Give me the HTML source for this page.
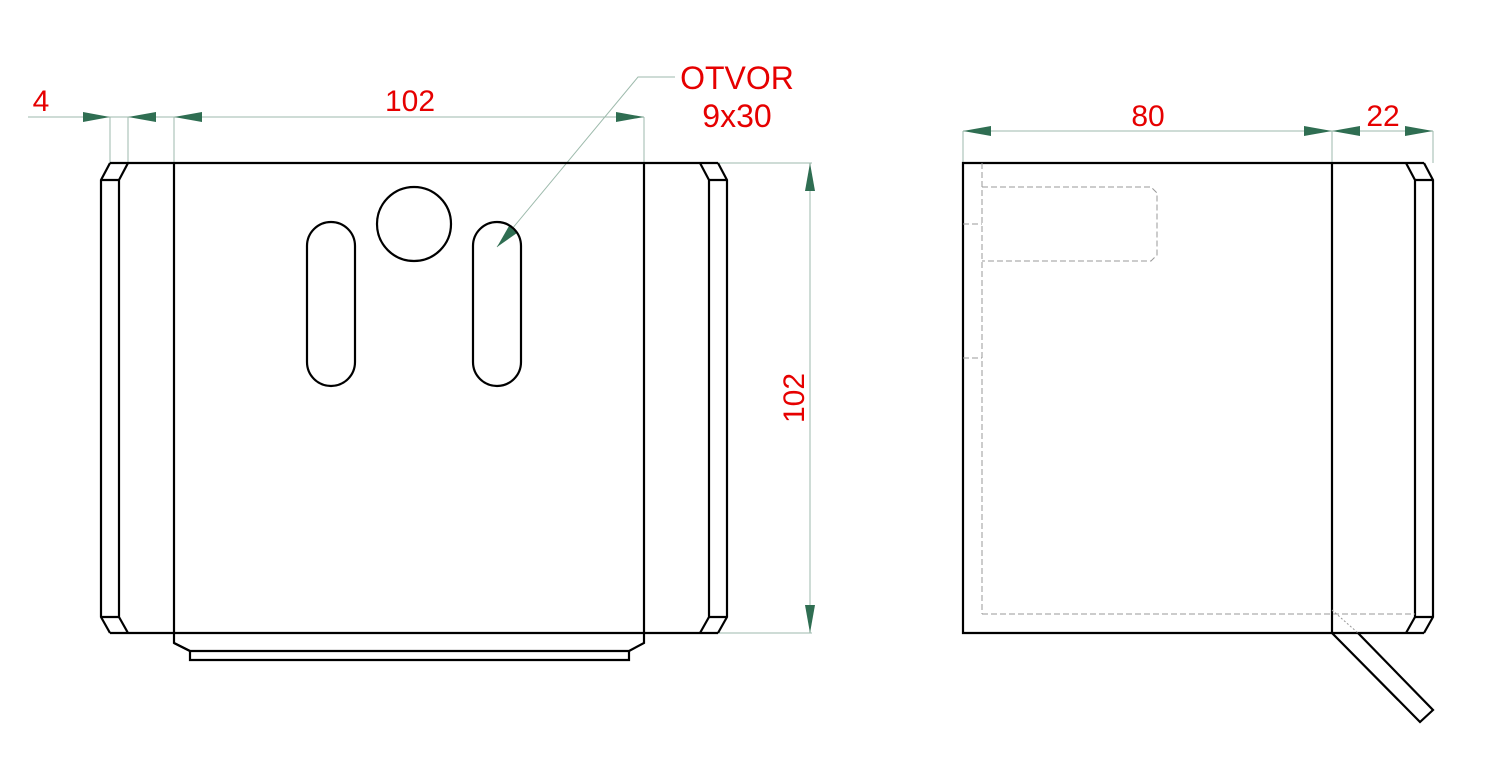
<!DOCTYPE html>
<html><head><meta charset="utf-8"><style>html,body{margin:0;padding:0;background:#fff}svg{display:block}</style></head>
<body>
<svg width="1500" height="775" viewBox="0 0 1500 775" xmlns="http://www.w3.org/2000/svg">
<g stroke="#9dbaac" stroke-width="1" fill="none">
<line x1="28" y1="117" x2="644" y2="117"/>
<line x1="110" y1="117" x2="110" y2="163"/>
<line x1="128" y1="117" x2="128" y2="163"/>
<line x1="174" y1="117" x2="174" y2="163"/>
<line x1="644" y1="117" x2="644" y2="163"/>
<line x1="718" y1="163" x2="812" y2="163"/>
<line x1="718" y1="633" x2="812" y2="633"/>
<line x1="810" y1="163" x2="810" y2="633"/>
<polyline points="675,77 638,77 497,247"/>
<line x1="963" y1="131" x2="1433" y2="131"/>
<line x1="963" y1="131" x2="963" y2="163"/>
<line x1="1332" y1="131" x2="1332" y2="163"/>
<line x1="1433" y1="131" x2="1433" y2="163"/>
</g>
<g stroke="none" fill="#2f6e52">
<path d="M83,112 L110,117 L83,122Z"/>
<path d="M156,112 L128,117 L156,122Z"/>
<path d="M202,112 L174,117 L202,122Z"/>
<path d="M616,112 L644,117 L616,122Z"/>
<path d="M805,191 L810,163 L815,191Z"/>
<path d="M805,605 L810,633 L815,605Z"/>
<path d="M991,126 L963,131 L991,136Z"/>
<path d="M1304,126 L1332,131 L1304,136Z"/>
<path d="M1360,126 L1332,131 L1360,136Z"/>
<path d="M1405,126 L1433,131 L1405,136Z"/>
<path d="M497,247 L509,226 L517,233Z"/>
</g>
<g stroke="#000" stroke-width="2.2" fill="none" stroke-linejoin="miter">
<line x1="110" y1="163" x2="718" y2="163"/>
<line x1="110" y1="633" x2="718" y2="633"/>
<polyline points="110,163 101,180 101,617 110,633"/>
<polyline points="128,163 119,180 119,617 128,633"/>
<line x1="101" y1="180" x2="119" y2="180"/>
<line x1="101" y1="617" x2="119" y2="617"/>
<polyline points="700,163 709,180 709,617 700,633"/>
<polyline points="718,163 727,180 727,617 718,633"/>
<line x1="709" y1="180" x2="727" y2="180"/>
<line x1="709" y1="617" x2="727" y2="617"/>
<polyline points="174,163 174,643 190,651 629,651 644,643 644,163"/>
<polyline points="174,643 190,651 190,660 629,660 629,651"/>
<circle cx="414" cy="224" r="37"/>
<rect x="307" y="222" width="48" height="164" rx="24"/>
<rect x="473" y="222" width="48" height="164" rx="24"/>
<polyline points="1424,163 963,163 963,633 1424,633"/>
<line x1="1332" y1="163" x2="1332" y2="633"/>
<polyline points="1406,163 1415,180 1415,617 1406,633"/>
<polyline points="1424,163 1433,180 1433,617 1424,633"/>
<line x1="1415" y1="180" x2="1433" y2="180"/>
<line x1="1415" y1="617" x2="1433" y2="617"/>
<polyline points="1332,633 1420,722 1433,710 1358,633"/>
</g>
<g stroke="#999" stroke-width="1" fill="none" stroke-dasharray="6,3">
<line x1="982" y1="163" x2="982" y2="614"/>
<line x1="982" y1="614" x2="1415" y2="614"/>
<path d="M982,187 H1151 L1157,193 V255 L1151,261 H982"/>
<line x1="963" y1="224" x2="982" y2="224"/>
<line x1="963" y1="358" x2="982" y2="358"/>
<line x1="1332" y1="610" x2="1358" y2="633" stroke-dasharray="2,2"/>
</g>
<g fill="#e60000" font-family="Liberation Sans, sans-serif" font-size="30" text-anchor="middle">
<text x="41" y="111">4</text>
<text x="410" y="111">102</text>
<text x="737" y="89" font-size="32">OTVOR</text>
<text x="737" y="127" font-size="32">9x30</text>
<text x="1148" y="126">80</text>
<text x="1383" y="126">22</text>
<text x="0" y="0" transform="translate(804,398) rotate(-90)">102</text>
</g>
</svg>
</body></html>
